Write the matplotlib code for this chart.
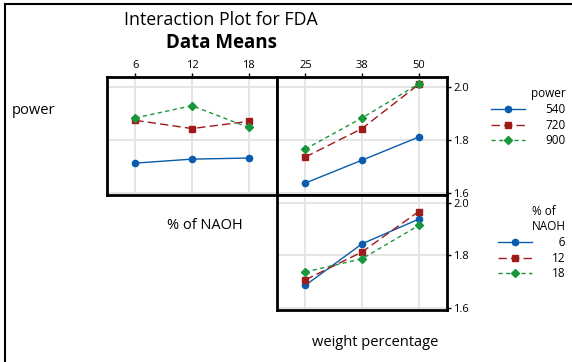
import matplotlib
matplotlib.use("Agg")
import matplotlib.pyplot as plt
from matplotlib.lines import Line2D

plt.rcParams['font.family'] = ['Open Sans', 'DejaVu Sans']

# factor levels
naoh_levels = ["6", "12", "18"]
weight_levels = ["25", "38", "50"]
power_levels = ["540", "720", "900"]

# means of FDA: power x %NAOH
fda_power_naoh = {
    "540": [1.712, 1.727, 1.731],
    "720": [1.873, 1.842, 1.869],
    "900": [1.882, 1.928, 1.846],
}
# power x weight percentage
fda_power_weight = {
    "540": [1.637, 1.723, 1.810],
    "720": [1.735, 1.842, 2.008],
    "900": [1.765, 1.882, 2.010],
}
# %NAOH x weight percentage
fda_naoh_weight = {
    "6": [1.686, 1.844, 1.938],
    "12": [1.707, 1.813, 1.967],
    "18": [1.737, 1.787, 1.914],
}

colors = ['#0b5cad', '#a11a1a', '#18973a']
markers = ['o', 's', 'D']
styles = ['-', (0, (6, 3)), (0, (3, 2.5))]
msizes = [4.5, 5, 4]

W, H = 572, 362
fig = plt.figure(figsize=(W / 100, H / 100), dpi=100)


def px_axes(x0, x1, y0, y1):
    return fig.add_axes([x0 / W, 1 - y1 / H, (x1 - x0) / W, (y1 - y0) / H])


ax1 = px_axes(107, 277, 77, 195)
ax2 = px_axes(277, 447, 77, 195)
ax3 = px_axes(277, 447, 195, 310)


def draw(ax, table, levels):
    for i, (k, vals) in enumerate(table.items()):
        ax.plot(range(len(levels)), vals, color=colors[i], marker=markers[i],
                linestyle=styles[i], lw=1.0, ms=msizes[i], label=k, zorder=3)
    ax.set_xlim(-0.5, 2.5)
    ax.set_ylim(1.592, 2.036)
    ax.set_xticks(range(len(levels)))
    ax.set_xticklabels(levels)
    ax.set_yticks([1.6, 1.8, 2.0])
    ax.grid(True, color='#e3e3e3', lw=1.3, zorder=0)
    for s in ax.spines.values():
        s.set_linewidth(2)
        s.set_zorder(5)
    ax.tick_params(labelsize=8, length=3, width=1, pad=1.5)


draw(ax1, fda_power_naoh, naoh_levels)
draw(ax2, fda_power_weight, weight_levels)
draw(ax3, fda_naoh_weight, weight_levels)

for ax in (ax1, ax2):
    ax.xaxis.tick_top()
ax1.tick_params(axis='y', left=False, labelleft=False)
for ax in (ax2, ax3):
    ax.yaxis.tick_right()
    ax.set_yticklabels(["1.6", "1.8", "2.0"])
ax3.tick_params(axis='x', bottom=False, labelbottom=False)
ax3.set_ylim(1.592, 2.03)


def legend(labels, title, anchor_y):
    handles = [Line2D([], [], color=colors[i], marker=markers[i], linestyle=styles[i],
                      lw=1.0, ms=msizes[i]) for i in range(3)]
    width = max(len(l) for l in labels)
    labels = ["\u2007" * (width - len(l)) + l for l in labels]
    lg = fig.legend(handles, labels, title=title, loc='upper right',
                    bbox_to_anchor=(574 / W, 1 - anchor_y / H), frameon=False,
                    fontsize=8.5, title_fontsize=8.5, alignment='right',
                    handlelength=2.9, handletextpad=1.7, labelspacing=0.22,
                    borderpad=0.2)
    lg._legend_box.sep = 2
    return lg


legend(power_levels, "power", 79)
legend(naoh_levels, "% of\nNAOH", 197)

fig.text(221 / W, 1 - 20 / H, "Interaction Plot for FDA", ha='center', va='center', fontsize=12.8)
fig.text(221 / W, 1 - 43 / H, "Data Means", ha='center', va='center', fontsize=13.5, fontweight='bold')
fig.text(12 / W, 1 - 110 / H, "power", ha='left', va='center', fontsize=10.5)
fig.text(205 / W, 1 - 226 / H, "% of NAOH", ha='center', va='center', fontsize=10.5)
fig.text(375 / W, 1 - 342 / H, "weight percentage", ha='center', va='center', fontsize=10.5)

# outer frame (left and top edges)
fig.add_artist(Line2D([5 / W, 5 / W], [0, 1 - 4 / H], color='black', lw=1.5))
fig.add_artist(Line2D([5 / W, 1], [1 - 4 / H, 1 - 4 / H], color='black', lw=1.5))

fig.savefig("out.png", dpi=100)
